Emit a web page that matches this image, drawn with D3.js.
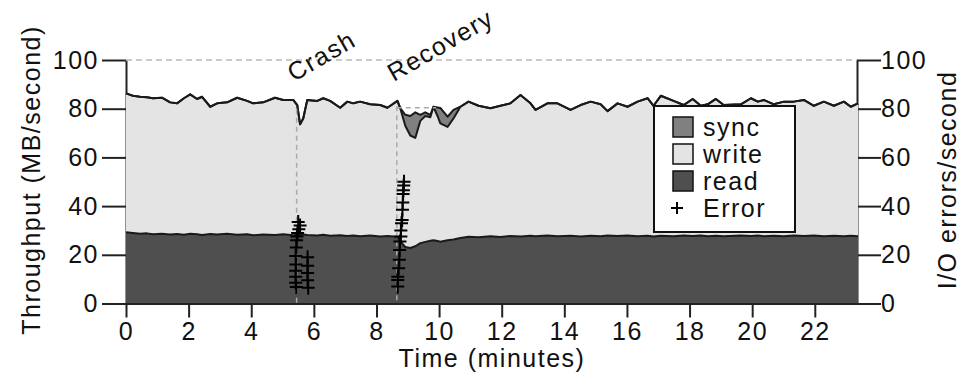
<!DOCTYPE html>
<html>
<head>
<meta charset="utf-8">
<script src="https://cdn.jsdelivr.net/npm/d3@7"></script>
<style>
  body { margin: 0; background: #fff; }
  svg text { font-family: "Liberation Sans", Arial, sans-serif; font-size: 25px; letter-spacing: 1.5px; fill: #111; }
</style>
</head>
<body>
<svg id="chart" width="961" height="374"></svg>
<script>
// time (minutes) of each sample
const times = [0.00, 0.22, 0.45, 0.67, 0.86, 1.15, 1.41, 1.63, 1.85, 2.05, 2.27, 2.43, 2.69, 2.91, 3.23, 3.55, 3.87, 4.06, 4.38, 4.76,
  5.02, 5.34, 5.47, 5.56, 5.66, 5.79, 6.11, 6.30, 6.52, 6.84, 7.07, 7.26, 7.48, 7.80, 8.12, 8.35, 8.67, 8.76, 8.92, 9.08,
  9.24, 9.40, 9.56, 9.72, 9.82, 9.95, 10.04, 10.27, 10.46, 10.68, 10.94, 11.26, 11.64, 11.96, 12.28, 12.60, 12.92, 13.08, 13.46, 13.78,
  14.20, 14.52, 14.84, 15.16, 15.38, 15.70, 16.02, 16.34, 16.66, 16.85, 17.08, 17.49, 17.81, 18.10, 18.36, 18.58, 18.84, 19.09, 19.64, 19.96,
  20.18, 20.37, 20.69, 21.01, 21.33, 21.65, 21.97, 22.29, 22.61, 22.93, 23.15, 23.38];

// throughput (MB/second) per layer
const readVals = [29.3, 29.0, 28.6, 28.8, 28.4, 28.6, 28.3, 28.5, 28.2, 28.6, 28.4, 28.1, 28.5, 28.3, 28.6, 28.2, 28.4, 28.0, 28.3, 28.1,
  28.4, 28.0, 28.2, 28.0, 28.3, 28.1, 27.9, 28.2, 27.8, 28.0, 27.7, 27.9, 27.6, 27.9, 27.5, 27.7, 27.4, 25.5, 23.2, 22.8,
  23.5, 24.8, 25.3, 25.8, 26.0, 25.7, 25.4, 26.0, 26.3, 26.9, 27.4, 27.2, 27.6, 27.3, 27.7, 27.5, 27.8, 27.6, 27.9, 27.6,
  27.8, 27.5, 27.8, 27.6, 27.9, 27.7, 27.9, 27.6, 27.8, 27.5, 27.8, 27.6, 27.9, 27.7, 27.9, 27.6, 27.8, 27.6, 27.9, 27.7,
  27.9, 27.6, 27.8, 27.6, 27.9, 27.7, 27.9, 27.6, 27.8, 27.6, 27.8, 27.6];
const writeVals = [57.0, 56.3, 56.3, 55.9, 55.9, 55.9, 54.3, 53.7, 56.1, 57.3, 55.6, 56.8, 52.3, 53.9, 54.0, 56.3, 54.8, 54.2, 54.3, 56.4,
  55.2, 55.6, 53.3, 45.6, 47.7, 55.5, 55.3, 56.1, 55.4, 52.4, 55.2, 54.3, 55.3, 53.9, 54.0, 52.7, 55.8, 54.7, 49.8, 46.2,
  44.5, 50.2, 51.7, 50.7, 54.8, 51.3, 48.6, 46.5, 49.7, 53.9, 55.5, 54.0, 52.6, 53.9, 54.5, 58.1, 54.4, 51.9, 54.3, 54.6,
  51.7, 54.0, 55.1, 54.2, 51.1, 54.5, 52.9, 55.3, 56.5, 53.7, 57.5, 55.6, 53.6, 56.3, 53.3, 54.2, 56.2, 53.9, 53.9, 56.6,
  55.0, 56.0, 54.0, 55.3, 55.0, 55.9, 53.3, 55.3, 53.4, 55.3, 53.0, 54.6];
const syncVals = [0, 0, 0, 0, 0, 0, 0, 0, 0, 0, 0, 0, 0, 0, 0, 0, 0, 0, 0, 0,
  0, 0, 0, 0, 0, 0, 0, 0, 0, 0, 0, 0, 0, 0, 0, 0, 0, 0, 4.5, 8.0,
  10.5, 2.5, 1.5, 1.0, 0, 3.5, 6.3, 4.2, 3.5, 0, 0, 0, 0, 0, 0, 0, 0, 0, 0, 0,
  0, 0, 0, 0, 0, 0, 0, 0, 0, 0, 0, 0, 0, 0, 0, 0, 0, 0, 0, 0,
  0, 0, 0, 0, 0, 0, 0, 0, 0, 0, 0, 0];

// I/O errors/second : [time, errors]
const errorPoints = [
  [5.50, 33.5], [5.56, 32.0], [5.52, 30.5], [5.48, 29.0], [5.46, 27.5], [5.45, 26.0], [5.44, 23.0], [5.42, 19.5],
  [5.43, 16.0], [5.42, 13.5], [5.42, 11.0], [5.42, 8.5], [5.44, 6.8],
  [5.80, 19.0], [5.80, 15.5], [5.80, 12.5], [5.80, 9.5], [5.82, 6.5],
  [8.88, 50.0], [8.87, 48.5], [8.86, 46.5], [8.85, 45.0], [8.84, 41.5], [8.83, 38.5], [8.82, 34.3], [8.80, 33.0],
  [8.78, 30.0], [8.78, 27.5], [8.75, 25.5], [8.74, 22.0], [8.73, 18.0], [8.71, 14.5], [8.68, 11.0], [8.68, 9.7], [8.68, 7.0]
];

const xTicks = [0, 2, 4, 6, 8, 10, 12, 14, 16, 18, 20, 22];
const yTicks = [0, 20, 40, 60, 80, 100];
const events = [{ label: 'Crash', t: 5.45, top: 80 }, { label: 'Recovery', t: 8.65, top: 81 }];
const legendItems = [{ name: 'sync', fill: '#808080' }, { name: 'write', fill: '#e4e4e4' }, { name: 'read', fill: '#4f4f4f' }];

const svg = d3.select('#chart');
const x = d3.scaleLinear().domain([0, 23.38]).range([126, 858]);
const y = d3.scaleLinear().domain([0, 100]).range([303.5, 60]);
const yErr = d3.scaleLinear().domain([0, 100]).range([303.5, 60]);

const rows = times.map((t, i) => ({ t, read: readVals[i], write: writeVals[i], sync: syncVals[i] }));
const series = d3.stack().keys(['read', 'write', 'sync'])(rows);
const fills = { read: '#4f4f4f', write: '#e4e4e4', sync: '#808080' };

// left / right axes (drawn under the areas, domain hidden by fill)
svg.append('g')
  .attr('transform', 'translate(126,0)')
  .call(d3.axisLeft(y).tickValues(yTicks).tickSize(24).tickSizeOuter(0).tickPadding(3))
  .call((g) => g.selectAll('line, path').attr('stroke', '#222').attr('stroke-width', 2))
  .call((g) => g.selectAll('text').attr('font-family', null).attr('font-size', null));

svg.append('g')
  .attr('transform', 'translate(857,0)')
  .call(d3.axisRight(y).tickValues(yTicks).tickSize(24).tickSizeOuter(0).tickPadding(0))
  .call((g) => g.selectAll('line, path').attr('stroke', '#222').attr('stroke-width', 2))
  .call((g) => g.selectAll('text').attr('font-family', null).attr('font-size', null));

// 100 line
svg.append('line')
  .attr('x1', x(0)).attr('x2', 857)
  .attr('y1', y(100)).attr('y2', y(100))
  .attr('stroke', '#bbb').attr('stroke-width', 1.5).attr('stroke-dasharray', '6,4');

const area = d3.area()
  .x((d) => x(d.data.t))
  .y0((d) => y(d[0]))
  .y1((d) => y(d[1]));

svg.selectAll('.layer')
  .data(series)
  .enter()
  .append('path')
  .attr('class', 'layer')
  .attr('d', area)
  .attr('fill', (d) => fills[d.key]);

const topLine = d3.line()
  .x((d) => x(d.data.t))
  .y((d) => y(d[1]));

svg.selectAll('.topline')
  .data(series)
  .enter()
  .append('path')
  .attr('class', 'topline')
  .attr('d', topLine)
  .attr('fill', 'none')
  .attr('stroke', '#1a1a1a')
  .attr('stroke-width', 2)
  .attr('stroke-linejoin', 'round');

// event markers
svg.selectAll('.event')
  .data(events)
  .enter()
  .append('line')
  .attr('x1', (d) => x(d.t)).attr('x2', (d) => x(d.t))
  .attr('y1', (d) => y(d.top)).attr('y2', y(0))
  .attr('stroke', '#aaa').attr('stroke-width', 1.5).attr('stroke-dasharray', '5,4');

svg.append('line')
  .attr('x1', x(8.65)).attr('x2', x(9.9))
  .attr('y1', y(80.4)).attr('y2', y(80.4))
  .attr('stroke', '#aaa').attr('stroke-width', 1.5).attr('stroke-dasharray', '5,4');

svg.selectAll('.evlabel')
  .data(events)
  .enter()
  .append('text')
  .attr('transform', (d) => `translate(${x(d.t) - 3},82) rotate(-30)`)
  .text((d) => d.label);

// error points
const plus = svg.selectAll('.err')
  .data(errorPoints)
  .enter()
  .append('g')
  .attr('transform', (d) => `translate(${x(d[0])},${yErr(d[1])})`);
plus.append('path')
  .attr('d', 'M-6.5,0H6.5M0,-7V7')
  .attr('stroke', '#000')
  .attr('stroke-width', 2);

// bottom axis
svg.append('g')
  .attr('transform', 'translate(0,303.5)')
  .call(d3.axisBottom(x).tickValues(xTicks).tickSize(14).tickSizeOuter(0).tickPadding(5))
  .call((g) => g.select('.domain').attr('d', 'M102,0.5H881'))
  .call((g) => g.selectAll('line, path').attr('stroke', '#222').attr('stroke-width', 2))
  .call((g) => g.selectAll('text').attr('font-family', null).attr('font-size', null));

// axis titles
svg.append('text')
  .attr('transform', 'translate(40,180) rotate(-90)')
  .attr('text-anchor', 'middle')
  .text('Throughput (MB/second)');

svg.append('text')
  .attr('transform', 'translate(956,180) rotate(-90)')
  .attr('text-anchor', 'middle')
  .text('I/O errors/second');

svg.append('text')
  .attr('x', 492).attr('y', 367)
  .attr('text-anchor', 'middle')
  .text('Time (minutes)');

// legend
const legend = svg.append('g');
legend.append('rect')
  .attr('x', 654).attr('y', 106)
  .attr('width', 141).attr('height', 126)
  .attr('fill', '#fff').attr('stroke', '#111').attr('stroke-width', 2);

legendItems.forEach((item, i) => {
  const cy = 127 + i * 27;
  legend.append('rect')
    .attr('x', 673).attr('y', cy - 10)
    .attr('width', 20).attr('height', 20)
    .attr('fill', item.fill).attr('stroke', '#111').attr('stroke-width', 1.5);
  legend.append('text')
    .attr('x', 703).attr('y', cy + 9)
    .text(item.name);
});
legend.append('path')
  .attr('d', `M671,${127 + 3 * 27}H683M677,${127 + 3 * 27 - 6}V${127 + 3 * 27 + 6}`)
  .attr('stroke', '#000').attr('stroke-width', 2);
legend.append('text')
  .attr('x', 703).attr('y', 127 + 3 * 27 + 9)
  .text('Error');
</script>
</body>
</html>
